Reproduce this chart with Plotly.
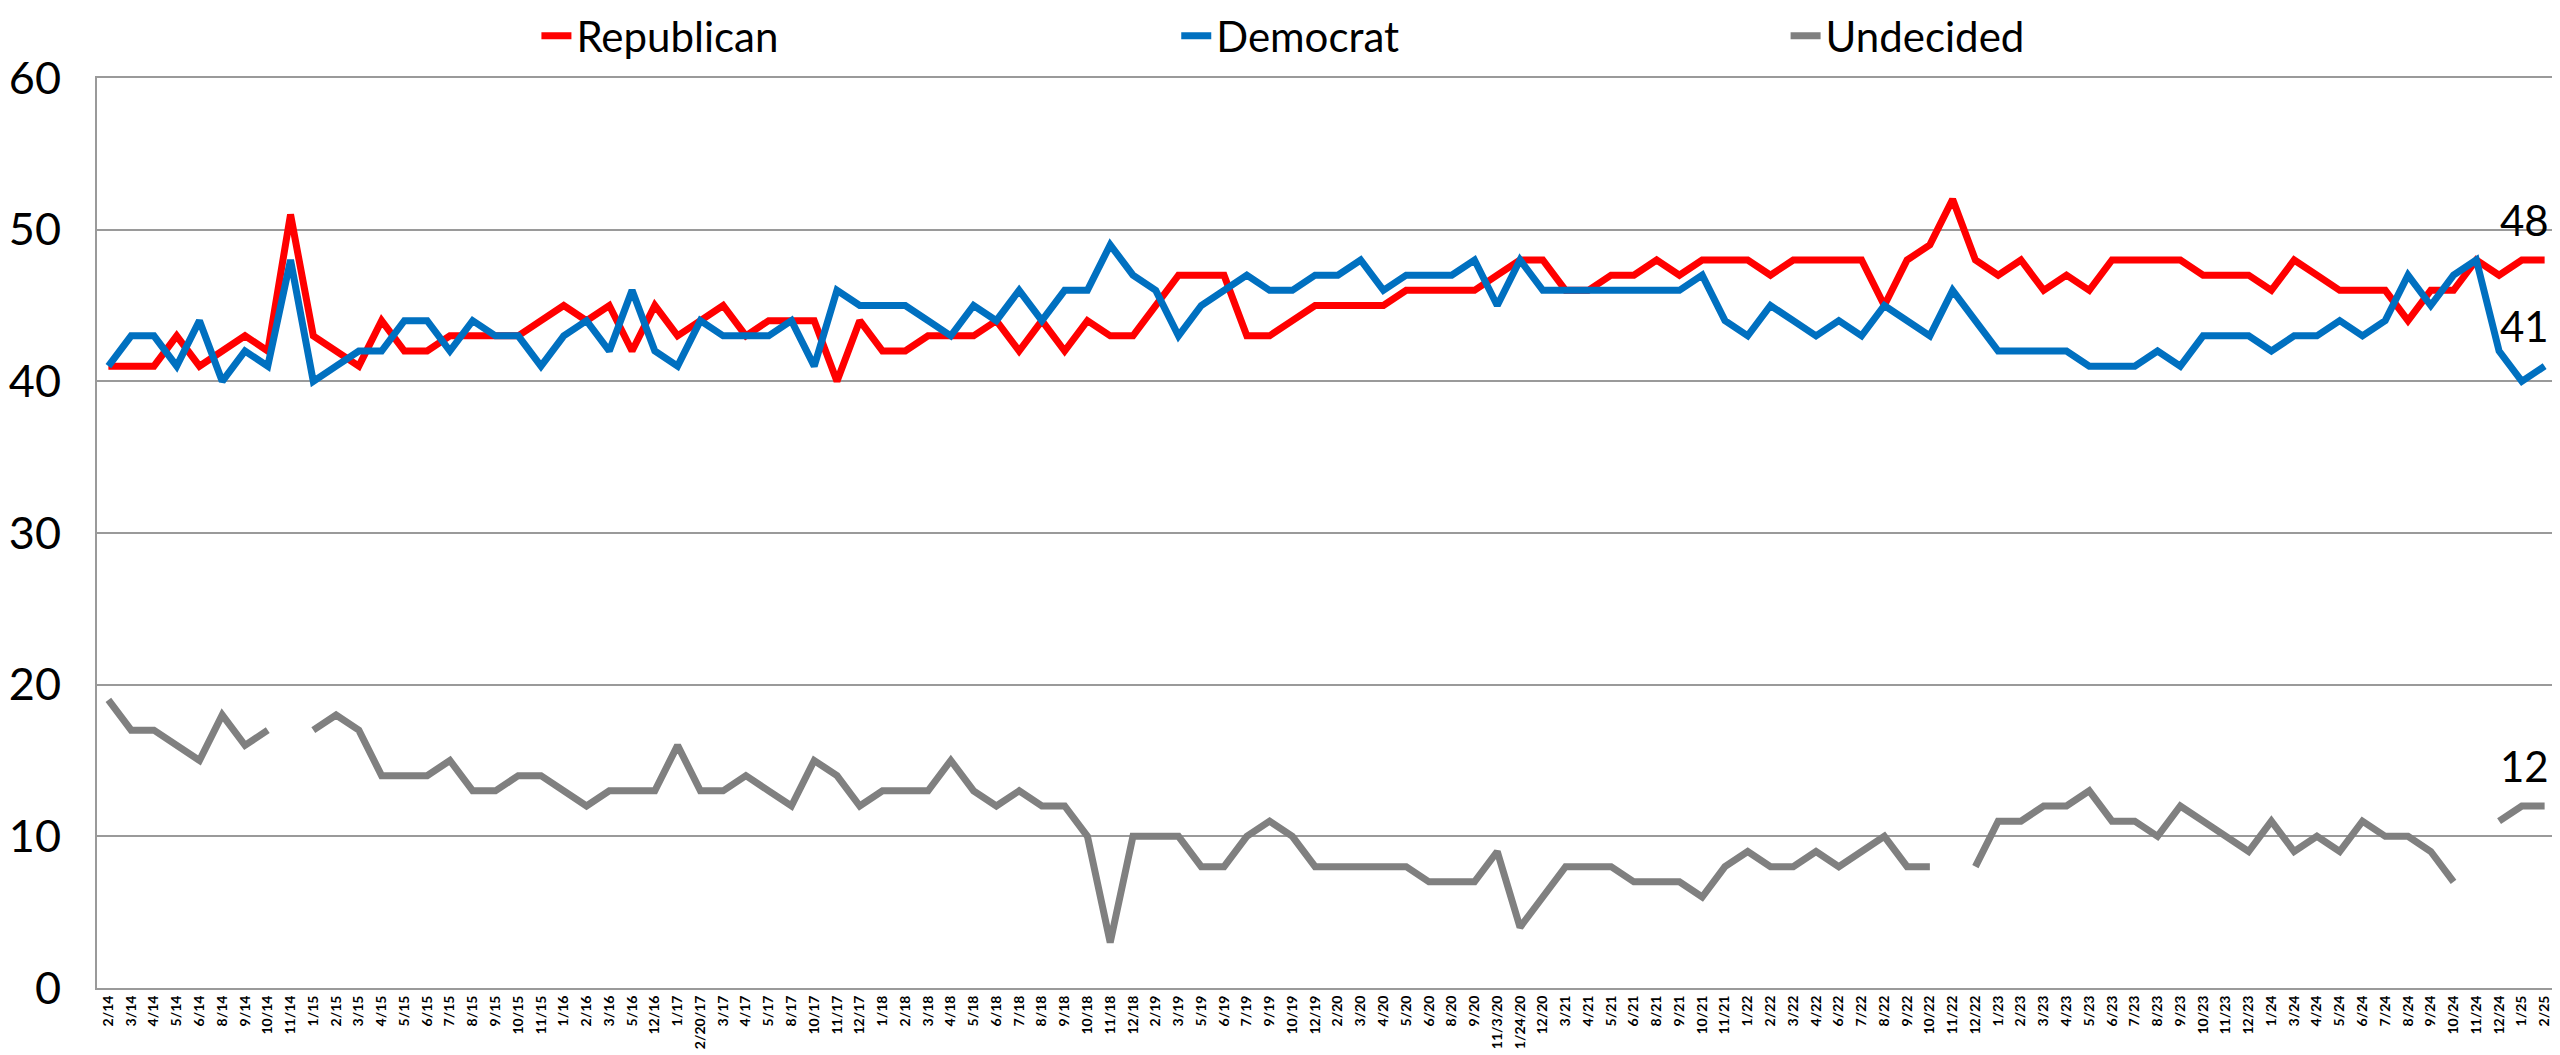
import plotly.graph_objects as go

categories = ["2/14","3/14","4/14","5/14","6/14","8/14","9/14","10/14","11/14","1/15",
              "2/15","3/15","4/15","5/15","6/15","7/15","8/15","9/15","10/15","11/15",
              "1/16","2/16","3/16","5/16","12/16","1/17","2/20/17","3/17","4/17","5/17",
              "8/17","10/17","11/17","12/17","1/18","2/18","3/18","4/18","5/18","6/18",
              "7/18","8/18","9/18","10/18","11/18","12/18","2/19","3/19","5/19","6/19",
              "7/19","9/19","10/19","12/19","2/20","3/20","4/20","5/20","6/20","8/20",
              "9/20","11/3/20","1/24/20","12/20","3/21","4/21","5/21","6/21","8/21","9/21",
              "10/21","11/21","1/22","2/22","3/22","4/22","6/22","7/22","8/22","9/22",
              "10/22","11/22","12/22","1/23","2/23","3/23","4/23","5/23","6/23","7/23",
              "8/23","9/23","10/23","11/23","12/23","1/24","3/24","4/24","5/24","6/24",
              "7/24","8/24","9/24","10/24","11/24","12/24","1/25","2/25"]

republican = [41,41,41,43,41,42,43,42,51,43,
              42,41,44,42,42,43,43,43,43,44,
              45,44,45,42,45,43,44,45,43,44,
              44,44,40,44,42,42,43,43,43,44,
              42,44,42,44,43,43,45,47,47,47,
              43,43,44,45,45,45,45,46,46,46,
              46,47,48,48,46,46,47,47,48,47,
              48,48,48,47,48,48,48,48,45,48,
              49,52,48,47,48,46,47,46,48,48,
              48,48,47,47,47,46,48,47,46,46,
              46,44,46,46,48,47,48,48]

democrat = [41,43,43,41,44,40,42,41,48,40,
            41,42,42,44,44,42,44,43,43,41,
            43,44,42,46,42,41,44,43,43,43,
            44,41,46,45,45,45,44,43,45,44,
            46,44,46,46,49,47,46,43,45,46,
            47,46,46,47,47,48,46,47,47,47,
            48,45,48,46,46,46,46,46,46,46,
            47,44,43,45,44,43,44,43,45,44,
            43,46,44,42,42,42,42,41,41,41,
            42,41,43,43,43,42,43,43,44,43,
            44,47,45,47,48,42,40,41]

undecided = [19,17,17,16,15,18,16,17,None,17,
             18,17,14,14,14,15,13,13,14,14,
             13,12,13,13,13,16,13,13,14,13,
             12,15,14,12,13,13,13,15,13,12,
             13,12,12,10,3,10,10,10,8,8,
             10,11,10,8,8,8,8,8,7,7,
             7,9,4,6,8,8,8,7,7,7,
             6,8,9,8,8,9,8,9,10,8,
             8,None,8,11,11,12,12,13,11,11,
             10,12,11,10,9,11,9,10,9,11,
             10,10,9,7,None,11,12,12]

series = [("Republican", republican, "#FF0000"),
          ("Democrat", democrat, "#0070C0"),
          ("Undecided", undecided, "#808080")]

FONT = "Lato"
fig = go.Figure()
legend_x = [0.1787, 0.4389, 0.6867]
for i, (name, vals, col) in enumerate(series):
    fig.add_trace(go.Scatter(
        x=categories, y=vals, name=name, mode="lines",
        line=dict(color=col, width=7), connectgaps=False,
        legend="legend" if i == 0 else f"legend{i+1}",
    ))

# end-value labels
for name, vals, col in series:
    fig.add_annotation(x=categories[-1], y=vals[-1], text=str(vals[-1]),
                       showarrow=False, xanchor="right", yanchor="middle",
                       xshift=6, yshift=40,
                       font=dict(family=FONT, size=42, color="black"))

legend_common = dict(orientation="h", yanchor="middle", y=1.0462, xanchor="left",
                     font=dict(family=FONT, size=42, color="black"),
                     bgcolor="rgba(0,0,0,0)")
# page body adds an 8px offset, so the canvas is 8px smaller than the window
fig.update_layout(
    width=2552, height=1047,
    margin=dict(l=89, r=4, t=70, b=67, autoexpand=False),
    plot_bgcolor="white", paper_bgcolor="white",
    legend=dict(x=legend_x[0], **legend_common),
    legend2=dict(x=legend_x[1], **legend_common),
    legend3=dict(x=legend_x[2], **legend_common),
    showlegend=True,
)
fig.update_xaxes(type="category", range=[-0.5, len(categories) - 0.5],
                 tickmode="array", tickvals=categories, ticktext=categories,
                 tickangle=-90, showgrid=False, showline=True, mirror=True,
                 linecolor="#9a9a9a", linewidth=2, ticks="", automargin=False,
                 tickfont=dict(family=FONT, size=14, color="black", weight="bold"))
fig.update_yaxes(range=[0, 60], dtick=10, showgrid=True, gridcolor="#9a9a9a",
                 gridwidth=2, showline=True, linecolor="#9a9a9a", linewidth=2,
                 zeroline=False, ticks="", ticklabelstandoff=25, automargin=False,
                 tickfont=dict(family=FONT, size=45, color="black"))

fig.write_html("out.html")
